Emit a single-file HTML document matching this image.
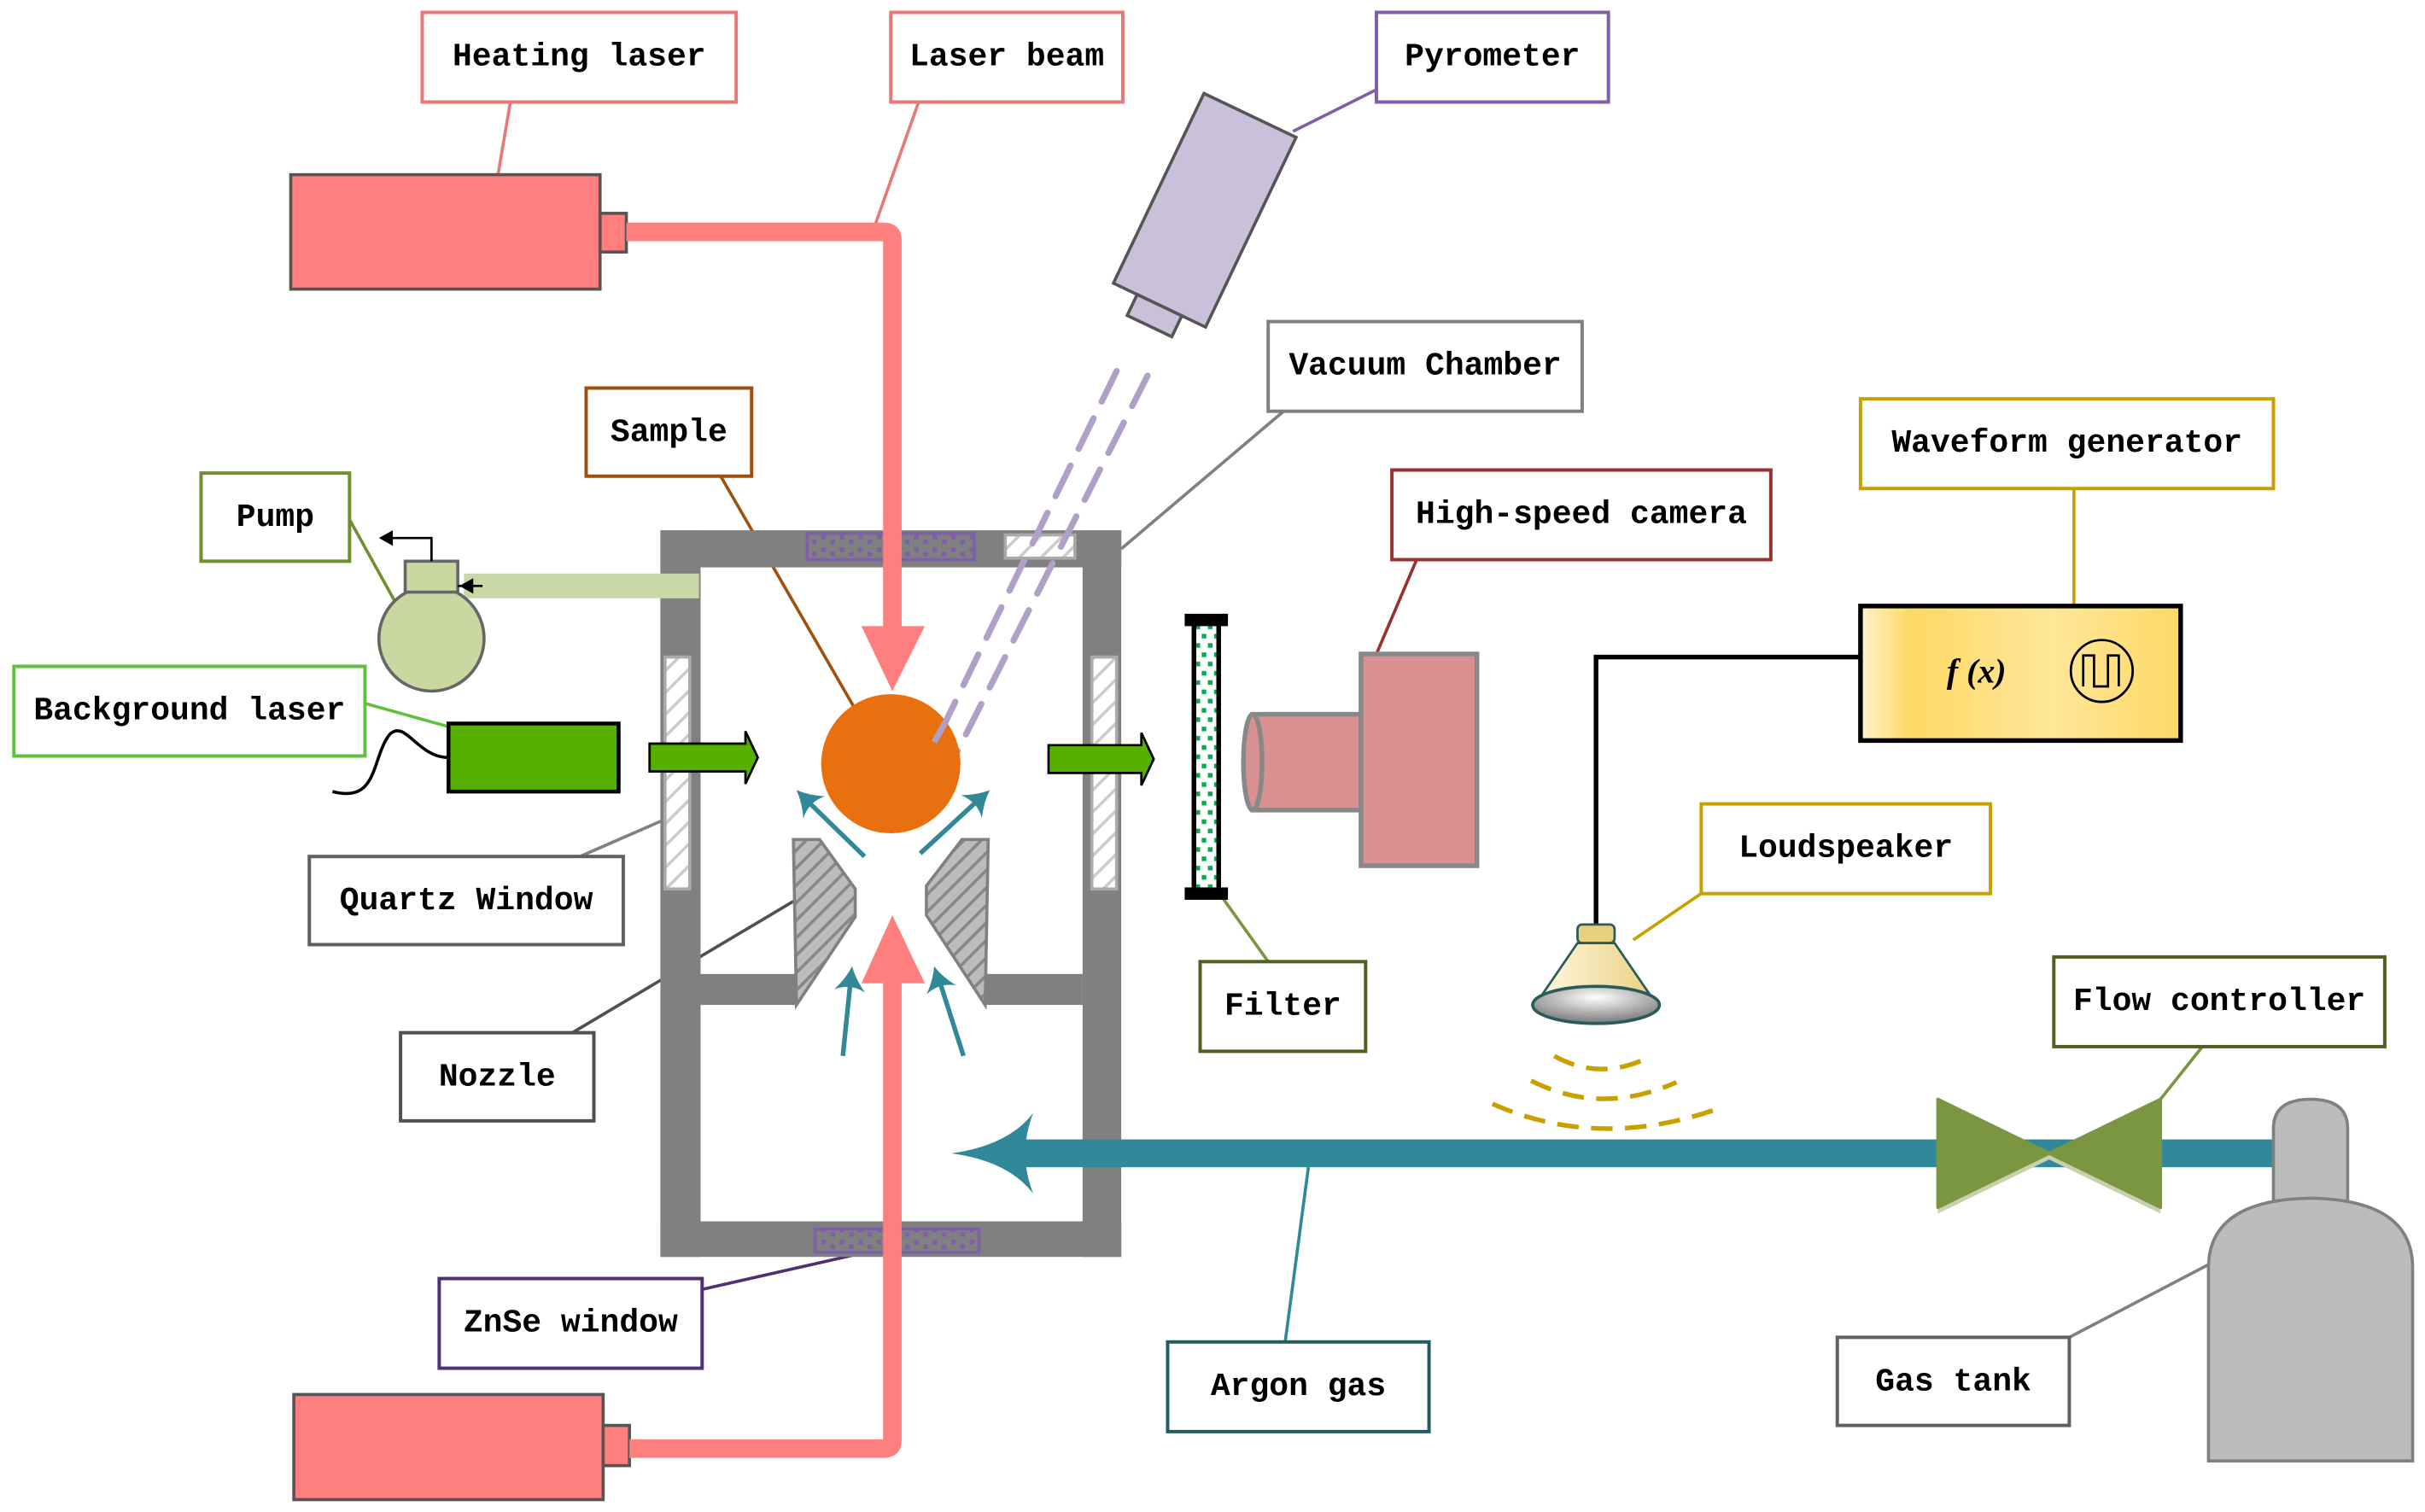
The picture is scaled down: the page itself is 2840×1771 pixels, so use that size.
<!DOCTYPE html>
<html><head><meta charset="utf-8"><style>
html,body{margin:0;padding:0;background:#fff;}
svg{display:block}
text{font-family:"Liberation Mono",monospace;font-size:21px;font-weight:bold;fill:#000;text-anchor:middle;dominant-baseline:central;}
</style></head><body>
<svg width="2840" height="1771" viewBox="0 0 1568 978" preserveAspectRatio="none" xmlns="http://www.w3.org/2000/svg">
<defs>
<pattern id="dots" width="12" height="8" patternUnits="userSpaceOnUse"><rect x="3" y="2" width="3" height="3" fill="#7f5fa8"/><rect x="9" y="5" width="3" height="3" fill="#7f5fa8"/></pattern>
<pattern id="gdots" width="8" height="12" patternUnits="userSpaceOnUse"><rect x="1" y="2" width="3" height="3" fill="#00b050"/><rect x="5" y="8" width="3" height="3" fill="#00b050"/></pattern>
<pattern id="hatch" width="8" height="8" patternUnits="userSpaceOnUse" patternTransform="rotate(-45)"><rect width="8" height="8" fill="#bcbcbc"/><rect width="8" height="2" fill="#888"/></pattern>
<pattern id="qhatch" width="10" height="10" patternUnits="userSpaceOnUse" patternTransform="rotate(-45)"><rect width="10" height="10" fill="#fff"/><rect width="10" height="2" fill="#ccc"/></pattern>
<linearGradient id="wg" x1="0" x2="1"><stop offset="0" stop-color="#fff3d0"/><stop offset="0.15" stop-color="#ffd966"/><stop offset="0.6" stop-color="#ffe699"/><stop offset="1" stop-color="#ffd966"/></linearGradient>
<radialGradient id="spk" cx="0.5" cy="0.3" r="0.7"><stop offset="0" stop-color="#fff"/><stop offset="1" stop-color="#777"/></radialGradient>
<linearGradient id="cone" x1="0" x2="1"><stop offset="0" stop-color="#fff8e0"/><stop offset="1" stop-color="#e8d080"/></linearGradient>
<path id="ah" d="M0,0 Q-8,3 -16,10 Q-11,0 -16,-10 Q-8,-3 0,0 Z" fill="#308898"/>
</defs>

<!-- connectors -->
<g stroke-width="2" fill="none">
<line x1="330" y1="66" x2="322" y2="113" stroke="#e87878"/>
<line x1="594" y1="66" x2="566" y2="145" stroke="#e87878"/>
<line x1="890" y1="58" x2="836" y2="85" stroke="#7f5fa8"/>
<line x1="830" y1="266" x2="725" y2="355" stroke="#808080"/>
<line x1="466" y1="308" x2="552" y2="457" stroke="#a0500e"/>
<line x1="1341" y1="316" x2="1341" y2="392" stroke="#c8a000"/>
<line x1="916" y1="362" x2="890" y2="423" stroke="#9b3030"/>
<line x1="226" y1="336" x2="257" y2="392" stroke="#6f8f30"/>
<line x1="236" y1="455" x2="290" y2="470" stroke="#60c040"/>
<line x1="375" y1="554" x2="430" y2="530" stroke="#808080"/>
<line x1="370" y1="668" x2="513" y2="583" stroke="#505050"/>
<line x1="820" y1="622" x2="790" y2="580" stroke="#7a9640"/>
<line x1="1100" y1="578" x2="1056" y2="608" stroke="#c8a000"/>
<line x1="1424" y1="677" x2="1397" y2="711" stroke="#7a9640"/>
<line x1="454" y1="834" x2="560" y2="810" stroke="#503070"/>
<line x1="831" y1="868" x2="846" y2="755" stroke="#308898"/>
<line x1="1338" y1="865" x2="1428" y2="818" stroke="#808080"/>
</g>

<!-- chamber -->
<g fill="#808080">
<rect x="427" y="343" width="26" height="470"/>
<rect x="427" y="343" width="298" height="24"/>
<rect x="700" y="343" width="25" height="470"/>
<rect x="427" y="790" width="298" height="23"/>
<rect x="452" y="630" width="63" height="20"/>
<rect x="638" y="630" width="62" height="20"/>
</g>
<rect x="522" y="345" width="108" height="17" fill="url(#dots)" stroke="#7f5fa8" stroke-width="2"/>
<rect x="650" y="346" width="45" height="15" fill="url(#qhatch)" stroke="#aaa" stroke-width="2"/>
<rect x="527" y="795" width="106" height="15" fill="url(#dots)" stroke="#7f5fa8" stroke-width="2"/>
<rect x="430" y="425" width="16" height="150" fill="url(#qhatch)" stroke="#aaa" stroke-width="2"/>
<rect x="706" y="425" width="16" height="150" fill="url(#qhatch)" stroke="#aaa" stroke-width="2"/>

<!-- lasers -->
<rect x="188" y="113" width="200" height="74" fill="#ff7f7f" stroke="#555" stroke-width="2"/>
<rect x="388" y="138" width="17" height="25" fill="#ff7f7f" stroke="#555" stroke-width="2"/>
<rect x="190" y="902" width="200" height="68" fill="#ff7f7f" stroke="#555" stroke-width="2"/>
<rect x="390" y="922" width="17" height="26" fill="#ff7f7f" stroke="#555" stroke-width="2"/>
<path d="M405 150 H572 Q577 150 577 155 V410" stroke="#ff7f7f" stroke-width="12" fill="none"/>
<polygon points="557,405 598,405 577,447" fill="#ff7f7f"/>
<path d="M407 937 H572 Q577 937 577 932 V630" stroke="#ff7f7f" stroke-width="12" fill="none"/>
<polygon points="557,636 598,636 577,592" fill="#ff7f7f"/>

<!-- pyrometer -->
<g transform="translate(779,136) rotate(25.5)">
<rect x="-33" y="-68" width="66" height="136" fill="#cbc0da" stroke="#555" stroke-width="2"/>
<rect x="-16" y="68" width="32" height="15" fill="#cbc0da" stroke="#555" stroke-width="2"/>
</g>
<g stroke="#b0a0c8" stroke-width="4" stroke-dasharray="22,12" stroke-linecap="round">
<line x1="722" y1="240" x2="604" y2="482"/>
<line x1="742" y1="243" x2="617" y2="490"/>
</g>

<!-- sample -->
<circle cx="576" cy="494" r="45" fill="#e8700e"/>
<line x1="604" y1="480" x2="612" y2="466" stroke="#b0a0c8" stroke-width="4"/>

<!-- nozzle -->
<polygon points="513,543 530,543 553,575 553,593 515,650" fill="url(#hatch)" stroke="#808080" stroke-width="2"/>
<polygon points="639,543 622,543 599,573 599,592 637,650" fill="url(#hatch)" stroke="#808080" stroke-width="2"/>

<!-- blue small arrows -->
<g stroke="#308898" stroke-width="3">
<line x1="559" y1="554" x2="522" y2="518"/>
<line x1="595" y1="552" x2="633" y2="517"/>
<line x1="545" y1="683" x2="550" y2="634"/>
<line x1="623" y1="683" x2="607" y2="633"/>
</g>
<use href="#ah" transform="translate(515,511) rotate(-135.6)"/>
<use href="#ah" transform="translate(640,511) rotate(-42.3)"/>
<use href="#ah" transform="translate(551,625) rotate(-84)"/>
<use href="#ah" transform="translate(604,625) rotate(-107)"/>

<!-- pump -->
<rect x="300" y="371" width="152" height="16" fill="#c8d8a8"/>
<circle cx="279" cy="413" r="34" fill="#c8d8a0" stroke="#666" stroke-width="2"/>
<rect x="262" y="363" width="34" height="20" fill="#c8d8a0" stroke="#666" stroke-width="2"/>
<path d="M279 363 V348 H252" stroke="#000" stroke-width="1.5" fill="none"/>
<polygon points="245,348 254,343 254,353" fill="#000"/>
<line x1="296" y1="379" x2="312" y2="379" stroke="#000" stroke-width="1.5"/>
<polygon points="297,379 306,374 306,384" fill="#000"/>

<!-- background laser -->
<rect x="290" y="468" width="110" height="44" fill="#55b000" stroke="#000" stroke-width="2.5"/>
<path d="M290 490 C270 490 262 465 252 475 C240 490 245 520 215 512" stroke="#000" stroke-width="2" fill="none"/>
<polygon points="420,481 482,481 482,473 490,490 482,507 482,499 420,499" fill="#55b000" stroke="#000" stroke-width="1.5"/>
<polygon points="678,482 738,482 738,474 746,491 738,508 738,500 678,500" fill="#55b000" stroke="#000" stroke-width="1.5"/>

<!-- filter -->
<rect x="772" y="403" width="16" height="174" fill="url(#gdots)" stroke="#000" stroke-width="3"/>
<rect x="766" y="397" width="28" height="8" fill="#000"/>
<rect x="766" y="574" width="28" height="8" fill="#000"/>

<!-- camera -->
<rect x="880" y="423" width="75" height="137" fill="#d89090" stroke="#888" stroke-width="3"/>
<rect x="810" y="462" width="70" height="62" fill="#d89090" stroke="#888" stroke-width="3"/>
<ellipse cx="810" cy="493" rx="6" ry="31" fill="#d89090" stroke="#888" stroke-width="3"/>

<!-- argon line -->
<rect x="660" y="737" width="810" height="18" fill="#308898"/>
<path d="M615 746 Q652 741 668 720 Q658 746 668 772 Q652 751 615 746 Z" fill="#308898"/>

<!-- valve -->
<polygon points="1253,760 1325,746 1397,760 1397,785 1325,750 1253,785" fill="#c8d0b0"/>
<polygon points="1253,711 1325,746 1253,781" fill="#7a9640" stroke="#7a9640" stroke-width="2" stroke-linejoin="round"/>
<polygon points="1397,711 1325,746 1397,781" fill="#7a9640" stroke="#7a9640" stroke-width="2" stroke-linejoin="round"/>

<!-- gas tank -->
<path d="M1470 780 V730 Q1470 711 1494 711 Q1518 711 1518 730 V780 Z" fill="#bcbcbc" stroke="#808080" stroke-width="2"/>
<path d="M1428 945 V820 Q1428 776 1494 775 Q1560 776 1560 820 V945 Z" fill="#bcbcbc" stroke="#808080" stroke-width="2"/>

<!-- waveform generator -->
<path d="M1203 425 H1032 V598" stroke="#000" stroke-width="3" fill="none"/>
<rect x="1203" y="392" width="207" height="87" fill="url(#wg)" stroke="#000" stroke-width="3"/>
<text x="1278" y="434" style="font-family:'Liberation Serif',serif;font-style:italic;font-weight:bold;font-size:22px">f (x)</text>
<circle cx="1359" cy="434" r="20" fill="none" stroke="#000" stroke-width="1.5"/>
<path d="M1347 444 V424 H1354 V444 H1363 V424 H1370 V444" stroke="#000" stroke-width="1.5" fill="none"/>

<!-- loudspeaker -->
<rect x="1020" y="598" width="24" height="12" rx="3" fill="#e8d080" stroke="#2a5a5a" stroke-width="1.5"/>
<polygon points="1020,610 1044,610 1070,648 994,648" fill="url(#cone)" stroke="#2a5a5a" stroke-width="1.5"/>
<ellipse cx="1032" cy="650" rx="41" ry="12" fill="url(#spk)" stroke="#2a5a5a" stroke-width="2"/>
<g stroke="#c8a000" stroke-width="3" fill="none" stroke-dasharray="14,8">
<path d="M1005 683 Q1035 700 1068 683"/>
<path d="M990 699 Q1035 722 1084 700"/>
<path d="M965 714 Q1035 745 1114 716"/>
</g>

<!-- labels -->
<g fill="#fff" stroke-width="2.2">
<rect x="273" y="8" width="203" height="58" stroke="#e87878"/>
<rect x="576" y="8" width="150" height="58" stroke="#e87878"/>
<rect x="890" y="8" width="150" height="58" stroke="#7f5fa8"/>
<rect x="820" y="208" width="203" height="58" stroke="#808080"/>
<rect x="379" y="251" width="107" height="57" stroke="#a0500e"/>
<rect x="1203" y="258" width="267" height="58" stroke="#c8a000"/>
<rect x="900" y="304" width="245" height="58" stroke="#9b3030"/>
<rect x="130" y="306" width="96" height="57" stroke="#6f8f30"/>
<rect x="9" y="431" width="227" height="58" stroke="#60c040"/>
<rect x="200" y="554" width="203" height="57" stroke="#606060"/>
<rect x="1100" y="520" width="187" height="58" stroke="#c8a000"/>
<rect x="776" y="622" width="107" height="58" stroke="#4f6020"/>
<rect x="1328" y="619" width="214" height="58" stroke="#4f6020"/>
<rect x="259" y="668" width="125" height="57" stroke="#505050"/>
<rect x="284" y="827" width="170" height="58" stroke="#503070"/>
<rect x="755" y="868" width="169" height="58" stroke="#205c60"/>
<rect x="1188" y="865" width="150" height="57" stroke="#606060"/>
</g>
<text x="374.5" y="37">Heating laser</text>
<text x="651" y="37">Laser beam</text>
<text x="965" y="37">Pyrometer</text>
<text x="921.5" y="237">Vacuum Chamber</text>
<text x="432.5" y="280">Sample</text>
<text x="1336.5" y="287">Waveform generator</text>
<text x="1022.5" y="333">High-speed camera</text>
<text x="178" y="335">Pump</text>
<text x="122.5" y="460">Background laser</text>
<text x="301.5" y="583">Quartz Window</text>
<text x="1193.5" y="549">Loudspeaker</text>
<text x="829.5" y="651">Filter</text>
<text x="1435" y="648">Flow controller</text>
<text x="321.5" y="697">Nozzle</text>
<text x="369" y="856">ZnSe window</text>
<text x="839.5" y="897">Argon gas</text>
<text x="1263" y="894">Gas tank</text>
</svg>
</body></html>
